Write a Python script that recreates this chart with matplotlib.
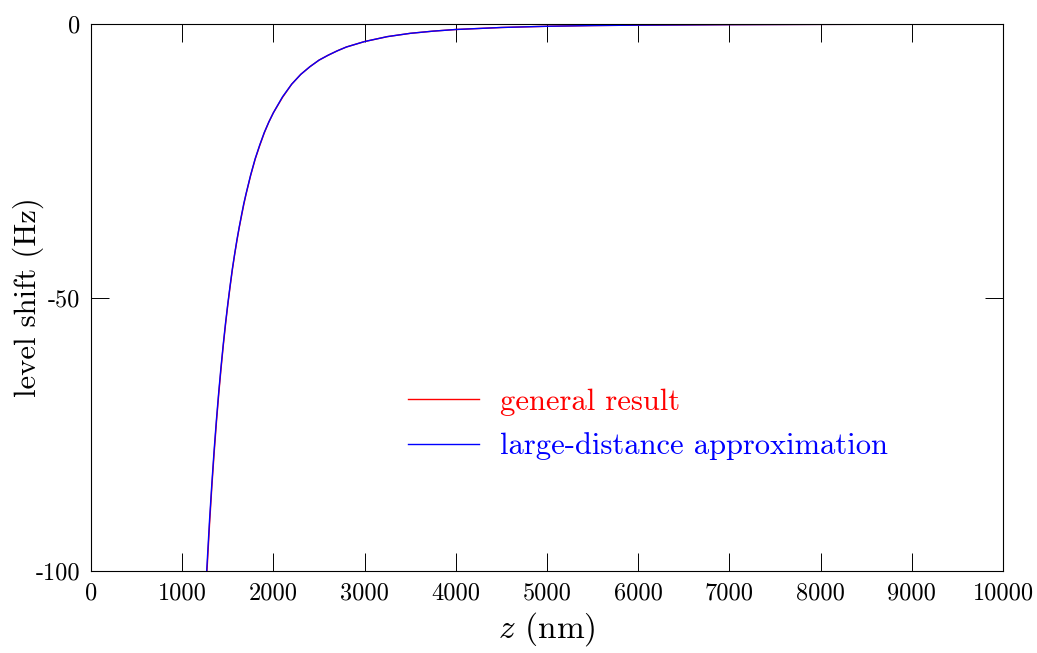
import matplotlib
matplotlib.use("Agg")
import matplotlib.pyplot as plt

# distance z (nm) and level shift (Hz)
z_nm = [1250, 1268, 1300, 1325, 1350, 1375, 1400, 1425, 1450, 1475, 1500, 1525, 1550,
        1575, 1600, 1625, 1650, 1675, 1700, 1750, 1800, 1850, 1900, 1950, 2000, 2100,
        2200, 2300, 2400, 2500, 2600, 2700, 2800, 2900, 3000, 3250, 3500, 3750, 4000,
        4500, 5000, 5500, 6000, 7000, 8000, 9000, 10000]
general = [-107.0, -101.0, -91.3, -84.5, -78.4, -72.8, -67.7, -63.1, -58.8, -54.9, -51.3,
           -48.0, -44.9, -42.1, -39.6, -37.2, -35.1, -33.0, -31.1, -27.7, -24.7, -22.2,
           -19.9, -17.9, -16.2, -13.4, -11.0, -9.2, -7.8, -6.6, -5.7, -4.9, -4.2, -3.7,
           -3.2, -2.3, -1.7, -1.3, -1.0, -0.63, -0.41, -0.28, -0.20, -0.11, -0.063,
           -0.039, -0.026]
approx = [-105.9, -100.0, -90.5, -83.9, -77.8, -72.3, -67.3, -62.7, -58.5, -54.6, -51.1,
          -47.8, -44.7, -42.0, -39.4, -37.1, -34.9, -32.8, -31.0, -27.6, -24.6, -22.1,
          -19.8, -17.9, -16.2, -13.3, -11.0, -9.2, -7.8, -6.6, -5.7, -4.9, -4.2, -3.7,
          -3.2, -2.3, -1.7, -1.3, -1.0, -0.63, -0.41, -0.28, -0.20, -0.11, -0.063,
          -0.039, -0.026]
x_ticks = [0, 1000, 2000, 3000, 4000, 5000, 6000, 7000, 8000, 9000, 10000]
y_ticks = [0, -50, -100]
y_ticklabels = ["0", "-50", "-100"]

plt.rcParams['font.family'] = ['cmr10', 'DejaVu Serif']
plt.rcParams['mathtext.fontset'] = 'cm'
plt.rcParams['axes.unicode_minus'] = False
plt.rcParams['axes.formatter.use_mathtext'] = True

fig = plt.figure(figsize=(10.37, 6.53), dpi=100)
ax = fig.add_axes([0.0878, 0.1256, 0.8794, 0.8376])

ax.plot(z_nm, general, color='red', lw=1.0, label='general result')
ax.plot(z_nm, approx, color='blue', lw=1.0, label='large-distance approximation')

ax.set_xlim(0, 10000)
ax.set_ylim(-100, 0)
ax.set_xticks(x_ticks)
ax.set_xticklabels([str(t) for t in x_ticks])
ax.set_yticks(y_ticks)
ax.set_yticklabels(y_ticklabels)
ax.tick_params(direction='in', length=13, width=0.7, top=True, right=True,
               labelsize=17.5, pad=8, color='black')
for s in ax.spines.values():
    s.set_linewidth(0.8)

ax.set_xlabel(r'$z$ (nm)', fontsize=24, labelpad=4)
ax.set_ylabel('level shift (Hz)', fontsize=22, labelpad=-6)

leg = ax.legend(loc='center', bbox_to_anchor=(0.611, 0.268), frameon=False, fontsize=22,
                handlelength=2.3, handletextpad=0.7, labelspacing=0.55,
                borderpad=0, borderaxespad=0)
for txt, line in zip(leg.get_texts(), leg.get_lines()):
    txt.set_color(line.get_color())

fig.savefig('out.png', dpi=100)
